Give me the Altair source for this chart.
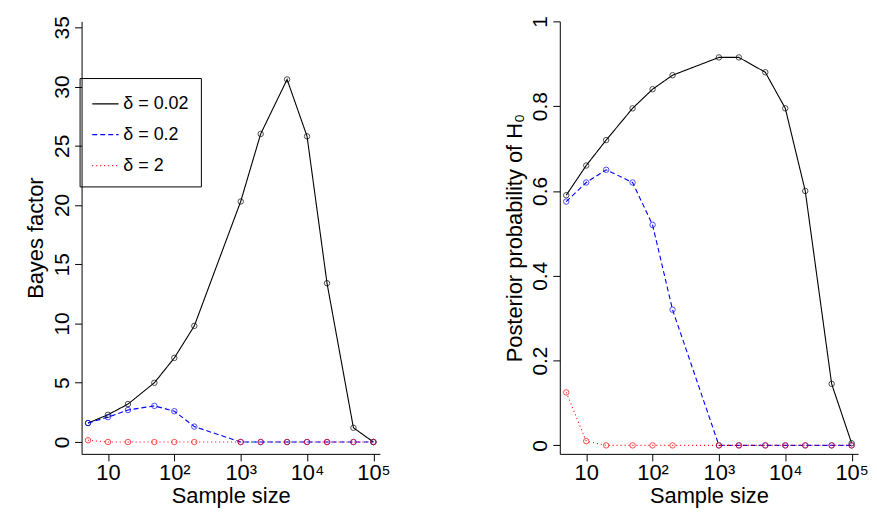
import altair as alt
import pandas as pd

n = [5, 10, 20, 50, 100, 200, 1000, 2000, 5000, 10000, 20000, 50000, 100000]
series = ["δ = 0.02", "δ = 0.2", "δ = 2"]

bf_002 = [1.6, 2.3, 3.2, 5.0, 7.1, 9.8, 20.3, 26.0, 30.6, 25.8, 13.4, 1.2, 0.0]
bf_02 = [1.6, 2.1, 2.7, 3.05, 2.6, 1.3, 0.0, 0.0, 0.0, 0.0, 0.0, 0.0, 0.0]
bf_2 = [0.15, 0.0, 0.0, 0.0, 0.0, 0.0, 0.0, 0.0, 0.0, 0.0, 0.0, 0.0, 0.0]

pp_002 = [0.59, 0.66, 0.72, 0.795, 0.84, 0.873, 0.915, 0.915, 0.88, 0.795, 0.6, 0.145, 0.005]
pp_02 = [0.575, 0.62, 0.65, 0.62, 0.52, 0.32, 0.0, 0.0, 0.0, 0.0, 0.0, 0.0, 0.0]
pp_2 = [0.125, 0.01, 0.0, 0.0, 0.0, 0.0, 0.0, 0.0, 0.0, 0.0, 0.0, 0.0, 0.0]


def long(vals):
    rows = []
    for s, v in zip(series, vals):
        for x, y in zip(n, v):
            rows.append({"n": x, "y": y, "delta": s})
    return pd.DataFrame(rows)


bf = long([bf_002, bf_02, bf_2])
pp = long([pp_002, pp_02, pp_2])

font = "Liberation Sans"
xlab = "datum.value == 10 ? '10' : datum.value == 100 ? '10²' : datum.value == 1000 ? '10³' : datum.value == 10000 ? '10⁴' : '10⁵'"
color = alt.Scale(domain=series, range=["black", "blue", "red"])
dash = alt.Scale(domain=series, range=[[1, 0], [5, 3], [1, 3]])


def panel(df, title, ydom, yticks, legend):
    x = alt.X("n:Q", title="Sample size",
              scale=alt.Scale(type="log", domain=[4, 125000], nice=False),
              axis=alt.Axis(values=[10, 100, 1000, 10000, 100000], labelExpr=xlab,
                            grid=False, labelFontSize=22, titleFontSize=22, titlePadding=2,
                            labelColor="black", titleColor="black", domainColor="black",
                            tickColor="black", tickSize=7, titleFontWeight="normal",
                            labelFont=font, titleFont=font))
    y = alt.Y("y:Q", title=title, scale=alt.Scale(domain=ydom, nice=False),
              axis=alt.Axis(values=yticks, format="~g", grid=False, labelAngle=270,
                            labelAlign="center", labelBaseline="bottom", labelFontSize=21,
                            titleFontSize=22, labelColor="black", titleColor="black",
                            domainColor="black", tickColor="black", tickSize=7,
                            titleFontWeight="normal", labelFont=font, titleFont=font))
    leg = alt.Legend(title=None, orient="none", legendX=-2, legendY=57, strokeColor="black",
                     padding=12, labelFontSize=18, labelFont=font, symbolSize=700,
                     symbolStrokeWidth=1.2, rowPadding=8, labelColor="black") if legend else None
    base = alt.Chart(df).encode(x=x, y=y,
                                color=alt.Color("delta:N", scale=color, legend=leg),
                                strokeDash=alt.StrokeDash("delta:N", scale=dash, legend=leg))
    lines = base.mark_line(strokeWidth=1.1)
    pts = alt.Chart(df).mark_point(shape="circle", filled=False, size=30, strokeWidth=1).encode(
        x="n:Q", y="y:Q", color=alt.Color("delta:N", scale=color, legend=None))
    return (lines + pts).properties(width=300, height=435)


left = panel(bf, "Bayes factor", [-1, 35.5], [0, 5, 10, 15, 20, 25, 30, 35], True)
right = panel(pp, "Posterior probability of H₀", [-0.02, 1.0], [0, 0.2, 0.4, 0.6, 0.8, 1], False)

chart = alt.hconcat(left, right, spacing=112).resolve_scale(
    color="independent", strokeDash="independent"
).properties(padding={"left": 16, "top": 6, "right": 0, "bottom": 0}).configure_view(stroke=None)
chart.save("out.html", embed_options={"renderer": "svg", "actions": False})
